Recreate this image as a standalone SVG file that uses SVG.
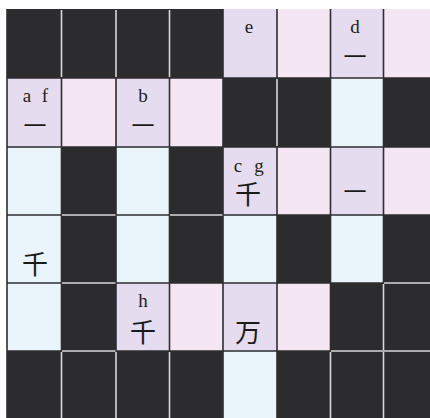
<svg xmlns="http://www.w3.org/2000/svg" width="430" height="418" viewBox="0 0 430 418">
<style>
.k{fill:#2c2c2e}
.l{fill:#e6dcef}
.p{fill:#f4e6f2}
.b{fill:#eaf4fb}
.gd{stroke:#2e2e30;stroke-width:1.6;fill:none}
.gl{stroke:#d8d8d8;stroke-width:1.6;fill:none}
.t{font-family:"Liberation Serif","DejaVu Serif",serif;font-size:19px;fill:#222;text-anchor:middle}
.c{font-family:"Noto Sans CJK JP","Noto Sans CJK SC",sans-serif;font-size:26px;fill:#1a1a1a;text-anchor:middle}
.h{font-family:"Noto Sans CJK JP","Noto Sans CJK SC",sans-serif;font-size:23px;fill:#1a1a1a;text-anchor:middle}
</style>
<rect x="0" y="0" width="430" height="418" fill="#ffffff"/>
<g id="cells">
<!-- row 0 -->
<rect class="k" x="7" y="9" width="54.5" height="69"/>
<rect class="k" x="61.5" y="9" width="54.5" height="69"/>
<rect class="k" x="116" y="9" width="53.5" height="69"/>
<rect class="k" x="169.5" y="9" width="53.5" height="69"/>
<rect class="l" x="223" y="9" width="54" height="69"/>
<rect class="p" x="277" y="9" width="53.5" height="69"/>
<rect class="l" x="330.5" y="9" width="53" height="69"/>
<rect class="p" x="383.5" y="9" width="53.5" height="69"/>
<!-- row 1 -->
<rect class="l" x="7" y="78" width="54.5" height="69"/>
<rect class="p" x="61.5" y="78" width="54.5" height="69"/>
<rect class="l" x="116" y="78" width="53.5" height="69"/>
<rect class="p" x="169.5" y="78" width="53.5" height="69"/>
<rect class="k" x="223" y="78" width="54" height="69"/>
<rect class="k" x="277" y="78" width="53.5" height="69"/>
<rect class="b" x="330.5" y="78" width="53" height="69"/>
<rect class="k" x="383.5" y="78" width="53.5" height="69"/>
<!-- row 2 -->
<rect class="b" x="7" y="147" width="54.5" height="68"/>
<rect class="k" x="61.5" y="147" width="54.5" height="68"/>
<rect class="b" x="116" y="147" width="53.5" height="68"/>
<rect class="k" x="169.5" y="147" width="53.5" height="68"/>
<rect class="l" x="223" y="147" width="54" height="68"/>
<rect class="p" x="277" y="147" width="53.5" height="68"/>
<rect class="l" x="330.5" y="147" width="53" height="68"/>
<rect class="p" x="383.5" y="147" width="53.5" height="68"/>
<!-- row 3 -->
<rect class="b" x="7" y="215" width="54.5" height="68"/>
<rect class="k" x="61.5" y="215" width="54.5" height="68"/>
<rect class="b" x="116" y="215" width="53.5" height="68"/>
<rect class="k" x="169.5" y="215" width="53.5" height="68"/>
<rect class="b" x="223" y="215" width="54" height="68"/>
<rect class="k" x="277" y="215" width="53.5" height="68"/>
<rect class="b" x="330.5" y="215" width="53" height="68"/>
<rect class="k" x="383.5" y="215" width="53.5" height="68"/>
<!-- row 4 -->
<rect class="b" x="7" y="283" width="54.5" height="68"/>
<rect class="k" x="61.5" y="283" width="54.5" height="68"/>
<rect class="l" x="116" y="283" width="53.5" height="68"/>
<rect class="p" x="169.5" y="283" width="53.5" height="68"/>
<rect class="l" x="223" y="283" width="54" height="68"/>
<rect class="p" x="277" y="283" width="53.5" height="68"/>
<rect class="k" x="330.5" y="283" width="53" height="68"/>
<rect class="k" x="383.5" y="283" width="53.5" height="68"/>
<!-- row 5 -->
<rect class="k" x="7" y="351" width="54.5" height="68"/>
<rect class="k" x="61.5" y="351" width="54.5" height="68"/>
<rect class="k" x="116" y="351" width="53.5" height="68"/>
<rect class="k" x="169.5" y="351" width="53.5" height="68"/>
<rect class="b" x="223" y="351" width="54" height="68"/>
<rect class="k" x="277" y="351" width="53.5" height="68"/>
<rect class="k" x="330.5" y="351" width="53" height="68"/>
<rect class="k" x="383.5" y="351" width="53.5" height="68"/>
</g>
<g id="gridlines">
<path class="gd" d="M61.5 9V419M116 9V419M169.5 9V419M223 9V419M277 9V419M330.5 9V419M383.5 9V419M7 78H430M7 147H430M7 215H430M7 283H430M7 351H430M7 9V419"/>
<path class="gl" d="M61.5 10V77M116 10V77M169.5 10V77M277 79V146"/>
<path class="gl" d="M62 215H115.5M170 215H222.5M62 283H115.5M384 283H430M62 351H115.5M331 351H430M383.5 284V350M61.5 352V418M116 352V418M169.5 352V418M330.5 352V418M383.5 352V418"/>
</g>
<g id="labels">
<text class="t" x="27" y="102">a</text>
<text class="t" x="45" y="102">f</text>
<text class="h" x="35" y="134">一</text>
<text class="t" x="143" y="102">b</text>
<text class="h" x="143" y="134">一</text>
<text class="t" x="249" y="33">e</text>
<text class="t" x="355" y="33">d</text>
<text class="h" x="355" y="65">一</text>
<text class="t" x="238" y="172">c</text>
<text class="t" x="259" y="172">g</text>
<text class="c" x="248" y="204">千</text>
<text class="h" x="355" y="200">一</text>
<text class="c" x="35" y="274">千</text>
<text class="t" x="143" y="307">h</text>
<text class="c" x="143" y="342">千</text>
<text class="c" x="248" y="342">万</text>
</g>
</svg>
